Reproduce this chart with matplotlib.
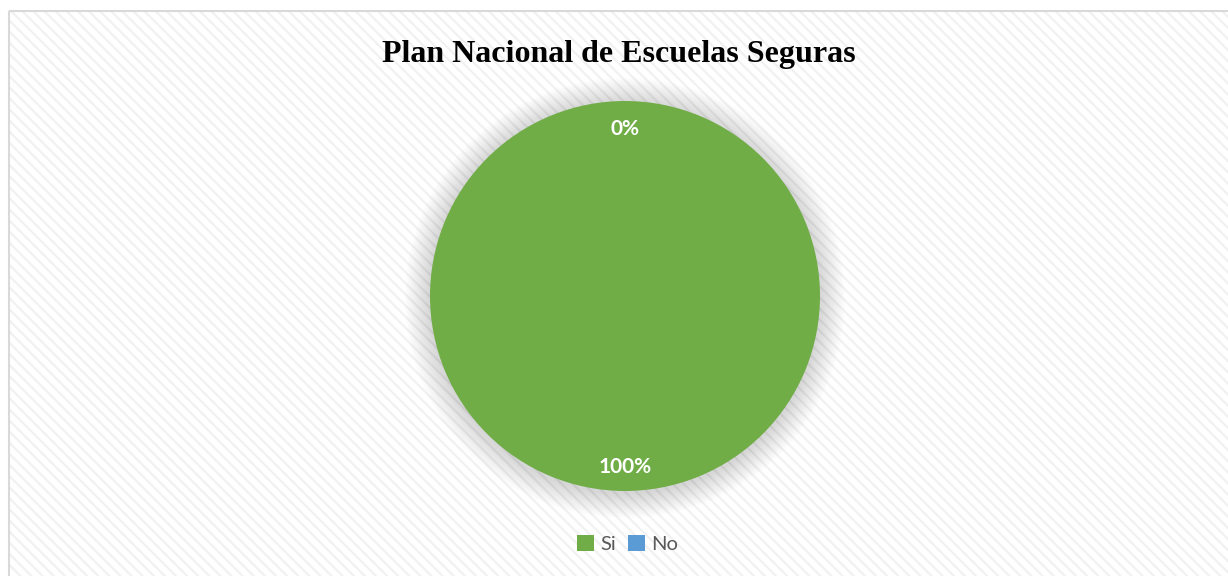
import matplotlib
matplotlib.use('Agg')
import matplotlib.pyplot as plt
from matplotlib.patches import Rectangle, Circle

categories = ['Si', 'No']
values = [100, 0]
colors = ['#70AD47', '#5B9BD5']
title = 'Plan Nacional de Escuelas Seguras'

plt.rcParams['hatch.linewidth'] = 1.6
fig = plt.figure(figsize=(12.28, 5.76), dpi=100)

# background frame with faint diagonal stripes, in pixel units
bg = fig.add_axes([0, 0, 1, 1], zorder=0)
bg.set_xlim(0, 1228)
bg.set_ylim(576, 0)
bg.axis('off')
bg.add_patch(Rectangle((8.5, 10.5), 1240, 600, facecolor='white', edgecolor='#f1f1f1',
                       hatch='\\\\\\', linewidth=0))
bg.add_patch(Rectangle((8.5, 10.5), 1240, 600, facecolor='none', edgecolor='#d9d9d9',
                       linewidth=1.5))

# pie axes: radius 1 = 195 px, centre at (625, 296) px
lim = 1.2
w = 390 * lim / 1228
h = 390 * lim / 576
ax = fig.add_axes([625 / 1228 - w / 2, (576 - 296) / 576 - h / 2, w, h], zorder=1)

wedges, texts, autotexts = ax.pie(values, colors=colors, startangle=90, counterclock=False,
                                  autopct='%.0f%%', pctdistance=0.865, radius=1.0,
                                  wedgeprops=dict(linewidth=0))
for t in autotexts:
    t.set_color('white')
    t.set_fontweight('bold')
    t.set_fontsize(15)
    t.set_fontfamily('Lato')
    t.set_va('center_baseline')

# soft shadow
n = 20
for i in range(n):
    r = 1.0 + 0.0065 * (n - i)
    ax.add_patch(Circle((0, -0.01), r, facecolor='black', alpha=0.009, linewidth=0, zorder=0))

ax.set_xlim(-lim, lim)
ax.set_ylim(-lim, lim)
ax.set_aspect('equal')
ax.axis('off')

fig.text(0.504, 0.905, title, ha='center', va='center', fontsize=23,
         fontweight='bold', fontfamily='Liberation Serif', color='black')

leg = fig.legend(wedges, categories, loc='center', bbox_to_anchor=(0.511, 0.056), ncol=2,
                 frameon=False, handlelength=0.85, handleheight=0.85, handletextpad=0.3,
                 columnspacing=0.6, prop={'family': 'Lato', 'size': 14.5})
for t in leg.get_texts():
    t.set_color('#595959')

fig.savefig('out.png', dpi=100)
